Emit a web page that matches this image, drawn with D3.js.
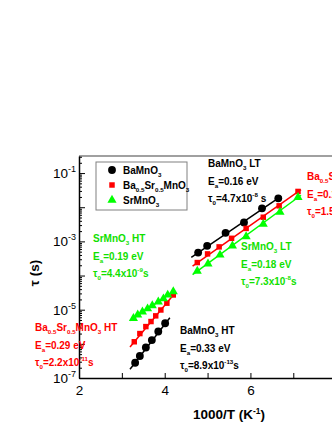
<!DOCTYPE html>
<html>
<head>
<meta charset="utf-8">
<script src="https://cdn.jsdelivr.net/npm/d3@7"></script>
<style>
  body { margin: 0; background: #fff; }
  text { font-family: "Liberation Sans", Arial, sans-serif; }
</style>
</head>
<body>
<div id="chart-area"></div>
<script>
// relaxation time vs 1000/T, Arrhenius plot

// data (x = 1000/T, tau in s)
const baLT_x = [4.78, 4.99, 5.42, 5.85, 6.27, 6.65]
const baLT_tau = [4.7e-4, 7.4e-4, 1.78e-3, 3.6e-3, 9.3e-3, 1.82e-2]
const bsLT_x = [4.76, 5.00, 5.27, 5.56, 5.90, 6.30, 6.67, 7.11]
const bsLT_tau = [2.4e-4, 4.3e-4, 6.9e-4, 1.23e-3, 2.4e-3, 5.1e-3, 1.1e-2, 2.9e-2]
const srLT_x = [4.76, 5.01, 5.29, 5.58, 5.90, 6.30, 6.69, 7.11]
const srLT_tau = [1.35e-4, 2.2e-4, 4.0e-4, 7.4e-4, 1.38e-3, 3.2e-3, 7.2e-3, 1.95e-2]

const baHT_x = [3.31, 3.42, 3.56, 3.70, 3.85, 4.01]
const baHT_tau = [2.8e-7, 4.4e-7, 7.8e-7, 1.29e-6, 2.3e-6, 4.0e-6]
const bsHT_x = [3.29, 3.42, 3.56, 3.68, 3.79, 3.91, 4.05, 4.20]
const bsHT_tau = [1.15e-6, 2.0e-6, 3.2e-6, 4.5e-6, 6.6e-6, 9.8e-6, 1.55e-5, 2.7e-5]
const srHT_x = [3.27, 3.37, 3.48, 3.60, 3.71, 3.85, 3.97, 4.07, 4.20]
const srHT_tau = [5.6e-6, 7.1e-6, 8.7e-6, 1.07e-5, 1.32e-5, 1.70e-5, 2.1e-5, 2.7e-5, 3.4e-5]

// fit line end points
const fits = [
  { x: [4.62, 6.72], tau: [3.4e-4, 2.1e-2], c: "black" },
  { x: [4.65, 7.18], tau: [1.9e-4, 3.3e-2], c: "red" },
  { x: [4.65, 7.18], tau: [1.07e-4, 2.24e-2], c: "#00ff00" },
  { x: [3.19, 4.12], tau: [1.8e-7, 5.8e-6], c: "black" },
  { x: [3.19, 4.24], tau: [8.1e-7, 3.1e-5], c: "red" },
  { x: [3.19, 4.24], tau: [4.8e-6, 3.6e-5], c: "#00ff00" }
]

const xTicks = [2, 3, 4, 5, 6, 7, 8, 9]
const xLabels = [2, 4, 6]
const yMajor = [1e-7, 1e-6, 1e-5, 1e-4, 1e-3, 1e-2, 1e-1]
const yLabels = [-7, -5, -3, -1]

const legendNames = [
  [["BaMnO", "n"], ["3", "sub"]],
  [["Ba", "n"], ["0.5", "sub"], ["Sr", "n"], ["0.5", "sub"], ["MnO", "n"], ["3", "sub"]],
  [["SrMnO", "n"], ["3", "sub"]]
]

const GREEN = "#00ff00"
const GREEN_TXT = "#11e000"

//set up chart area
const MARGIN = { LEFT: 79, TOP: 156 }
const WIDTH = 300
const HEIGHT = 222

const svg = d3.select("#chart-area").append("svg")
    .attr("width", 332)
    .attr("height", 430)

const g = svg.append("g")
    .attr("transform", `translate(${MARGIN.LEFT}, ${MARGIN.TOP})`)

const x = d3.scaleLinear().domain([2, 9]).range([0, WIDTH])
const y = d3.scaleLog().domain([1e-7, Math.pow(10, -0.5)]).range([HEIGHT, 0])

// frame (top gray line)
g.append("line")
  .attr("x1", 0).attr("x2", WIDTH)
  .attr("y1", 0).attr("y2", 0)
  .attr("stroke", "#808080").attr("stroke-width", 1.5)

// minor y ticks
let yMinor = []
for (let e = -7; e < 0; e++) {
  for (let m = 2; m <= 9; m++) {
    const v = m * Math.pow(10, e)
    if (v < y.domain()[1]) yMinor.push(v)
  }
}

g.append("g")
  .call(d3.axisLeft(y).tickValues(yMinor).tickSizeInner(-3).tickSizeOuter(0).tickFormat(""))
  .call(a => a.select(".domain").remove())

const yAxisGroup = g.append("g")
  .call(d3.axisLeft(y).tickValues(yMajor).tickSizeInner(-6).tickSizeOuter(0).tickFormat(""))
yAxisGroup.select(".domain").attr("stroke-width", 1.5)

const xAxisGroup = g.append("g")
  .attr("transform", `translate(0, ${HEIGHT})`)
  .call(d3.axisBottom(x).tickValues(xTicks).tickSizeInner(-5).tickSizeOuter(0).tickPadding(7)
    .tickFormat(d => xLabels.includes(d) ? d : ""))
xAxisGroup.select(".domain").attr("stroke-width", 1.5)
xAxisGroup.selectAll("text")
  .attr("font-size", "13.5px").attr("fill", "black")
  .style("font-family", "'Liberation Sans', Arial, sans-serif")

// y tick labels 10^n
yLabels.forEach(e => {
  const t = g.append("text")
    .attr("x", -3)
    .attr("y", y(Math.pow(10, e)) + 5)
    .attr("text-anchor", "end")
    .attr("font-size", "13.5px")
  t.append("tspan").text("10")
  t.append("tspan").attr("dy", -6).attr("font-size", "9px").text(String(e))
})

// rich text helper: parts = [[str, "n" | "sub" | "sup"], ...]
function rich(parent, px, py, parts, color, size, weight) {
  const t = parent.append("text")
    .attr("x", px).attr("y", py)
    .attr("fill", color)
    .attr("font-size", size + "px")
    .attr("font-weight", weight || "bold")
  let shift = 0
  parts.forEach(([s, m]) => {
    const target = m === "sub" ? 3 : m === "sup" ? -5 : 0
    t.append("tspan")
      .attr("dy", target - shift)
      .attr("font-size", (m === "n" ? size : size * 0.62) + "px")
      .text(s)
    shift = target
  })
  return t
}

// axis titles
rich(svg, 0, 0, [["1000/T (K", "n"], ["-1", "sup"], [")", "n"]], "black", 13.5)
  .attr("x", 229).attr("y", 419).attr("text-anchor", "middle")

svg.append("text")
  .attr("transform", "translate(39, 273) rotate(-90)")
  .attr("text-anchor", "middle")
  .attr("font-size", "13.5px")
  .attr("font-weight", "bold")
  .text("τ (s)")

// fit lines
const line = d3.line().x(d => x(d[0])).y(d => y(d[1]))
fits.forEach(f => {
  g.append("path")
    .attr("d", line(d3.zip(f.x, f.tau)))
    .attr("fill", "none")
    .attr("stroke", f.c)
    .attr("stroke-width", 1.5)
})

// markers
const circ = d3.symbol().type(d3.symbolCircle).size(48)
const sq = d3.symbol().type(d3.symbolSquare).size(30)
const tri = d3.symbol().type(d3.symbolTriangle).size(36)

function drawSeries(xs, taus, sym, color) {
  g.selectAll(null)
    .data(d3.zip(xs, taus))
    .enter().append("path")
    .attr("d", sym)
    .attr("transform", d => `translate(${x(d[0])}, ${y(d[1])})`)
    .attr("fill", color)
}
drawSeries(baLT_x, baLT_tau, circ, "black")
drawSeries(bsLT_x, bsLT_tau, sq, "red")
drawSeries(srLT_x, srLT_tau, tri, GREEN)
drawSeries(baHT_x, baHT_tau, circ, "black")
drawSeries(bsHT_x, bsHT_tau, sq, "red")
drawSeries(srHT_x, srHT_tau, tri, GREEN)

// legend
const leg = svg.append("g").attr("transform", "translate(96, 162)")
leg.append("rect")
  .attr("width", 91).attr("height", 48)
  .attr("fill", "white").attr("stroke", "#808080").attr("stroke-width", 1)
const legSyms = [circ, sq, tri]
const legCols = ["black", "red", GREEN]
legendNames.forEach((n, i) => {
  leg.append("path")
    .attr("d", legSyms[i])
    .attr("transform", `translate(16, ${8 + i * 15})`)
    .attr("fill", legCols[i])
  rich(leg, 27, 12 + i * 15, n, "black", 10)
})

// annotations
const notes = [
  { x: 208, y: 167, c: "black", lines: [
    [["BaMnO", "n"], ["3", "sub"], [" LT", "n"]],
    [["E", "n"], ["a", "sub"], ["=0.16 eV", "n"]],
    [["τ", "n"], ["0", "sub"], ["=4.7x10", "n"], ["-8", "sup"], [" s", "n"]]] },
  { x: 307, y: 180, c: "red", lines: [
    [["Ba", "n"], ["0.5", "sub"], ["Sr", "n"], ["0.5", "sub"], ["MnO", "n"], ["3", "sub"], [" LT", "n"]],
    [["E", "n"], ["a", "sub"], ["=0.15 eV", "n"]],
    [["τ", "n"], ["0", "sub"], ["=1.5x10", "n"], ["-8", "sup"], [" s", "n"]]] },
  { x: 241, y: 250, c: GREEN_TXT, lines: [
    [["SrMnO", "n"], ["3", "sub"], [" LT", "n"]],
    [["E", "n"], ["a", "sub"], ["=0.18 eV", "n"]],
    [["τ", "n"], ["0", "sub"], ["=7.3x10", "n"], ["-8", "sup"], ["s", "n"]]] },
  { x: 93, y: 242, c: GREEN_TXT, lines: [
    [["SrMnO", "n"], ["3", "sub"], [" HT", "n"]],
    [["E", "n"], ["a", "sub"], ["=0.19 eV", "n"]],
    [["τ", "n"], ["0", "sub"], ["=4.4x10", "n"], ["-9", "sup"], ["s", "n"]]] },
  { x: 35, y: 331, c: "red", lines: [
    [["Ba", "n"], ["0.5", "sub"], ["Sr", "n"], ["0.5", "sub"], ["MnO", "n"], ["3", "sub"], [" HT", "n"]],
    [["E", "n"], ["a", "sub"], ["=0.29 eV", "n"]],
    [["τ", "n"], ["0", "sub"], ["=2.2x10", "n"], ["-11", "sup"], ["s", "n"]]] },
  { x: 180, y: 334, c: "black", lines: [
    [["BaMnO", "n"], ["3", "sub"], [" HT", "n"]],
    [["E", "n"], ["a", "sub"], ["=0.33 eV", "n"]],
    [["τ", "n"], ["0", "sub"], ["=8.9x10", "n"], ["-13", "sup"], ["s", "n"]]] }
]
notes.forEach(n => {
  n.lines.forEach((l, i) => rich(svg, n.x, n.y + i * 17.5, l, n.c, 10))
})
</script>
</body>
</html>
